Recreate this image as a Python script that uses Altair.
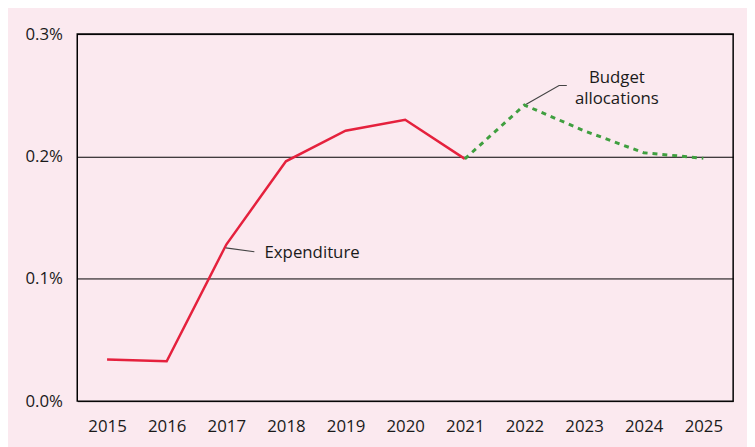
import altair as alt
import pandas as pd

# Data (percent of GDP)
years_exp = [2015, 2016, 2017, 2018, 2019, 2020, 2021]
expenditure = [0.034, 0.0325, 0.128, 0.196, 0.221, 0.230, 0.198]
years_bud = [2021, 2022, 2023, 2024, 2025]
budget = [0.198, 0.242, 0.221, 0.203, 0.1985]

y_ticks = [0.0, 0.1, 0.2, 0.3]
x_ticks = list(range(2015, 2026))

# Annotations
exp_label = "Expenditure"
exp_label_pos = (2017.64, 0.1213)
exp_conn_x = [2016.99, 2017.47]
exp_conn_y = [0.1253, 0.1221]
bud_label = ["Budget", "allocations"]
bud_label_x = [2023.55, 2023.55]
bud_label_y = [0.2644, 0.2466]
bud_conn_x = [2022.03, 2022.58, 2022.71]
bud_conn_y = [0.2426, 0.2580, 0.2580]

FONT = "Open Sans"
BG = "#fbe9ef"
FS = 17

df_exp = pd.DataFrame({"year": years_exp, "value": expenditure})
df_bud = pd.DataFrame({"year": years_bud, "value": budget})

xscale = alt.Scale(domain=[2014.5, 2025.5], nice=False, zero=False)
yscale = alt.Scale(domain=[0, 0.3], nice=False)

xaxis = alt.Axis(values=x_ticks, format="d", title=None, grid=False, domain=False,
                 ticks=False, labelPadding=18, labelFontSize=FS, labelFont=FONT,
                 labelColor="#1a1a1a")
yaxis = alt.Axis(values=y_ticks, title=None, grid=True, gridColor="#000000", gridWidth=1,
                 gridOpacity=1, domain=False, ticks=False, labelPadding=15,
                 labelFontSize=FS, labelFont=FONT, labelColor="#1a1a1a",
                 labelExpr="format(datum.value, '.1f') + '%'")

exp_line = alt.Chart(df_exp).mark_line(color="#e5213d", strokeWidth=2.5).encode(
    x=alt.X("year:Q", scale=xscale, axis=xaxis),
    y=alt.Y("value:Q", scale=yscale, axis=yaxis),
)

bud_line = alt.Chart(df_bud).mark_line(color="#3f9f3f", strokeWidth=3, strokeDash=[5, 5]).encode(
    x=alt.X("year:Q", scale=xscale),
    y=alt.Y("value:Q", scale=yscale),
)

exp_conn = alt.Chart(pd.DataFrame({"x": exp_conn_x, "y": exp_conn_y})).mark_line(
    color="#444444", strokeWidth=1.2).encode(x=alt.X("x:Q", scale=xscale), y=alt.Y("y:Q", scale=yscale))
bud_conn = alt.Chart(pd.DataFrame({"x": bud_conn_x, "y": bud_conn_y, "o": [0, 1, 2]})).mark_line(
    color="#444444", strokeWidth=1.2).encode(x=alt.X("x:Q", scale=xscale), y=alt.Y("y:Q", scale=yscale),
                                               order="o:Q")

exp_text = alt.Chart(pd.DataFrame({"x": [exp_label_pos[0]], "y": [exp_label_pos[1]], "t": [exp_label]})).mark_text(
    align="left", baseline="middle", fontSize=FS, font=FONT, color="#1a1a1a").encode(
    x=alt.X("x:Q", scale=xscale), y=alt.Y("y:Q", scale=yscale), text="t:N")
bud_text = alt.Chart(pd.DataFrame({"x": bud_label_x, "y": bud_label_y, "t": bud_label})).mark_text(
    align="center", baseline="middle", fontSize=FS, font=FONT, color="#1a1a1a").encode(
    x=alt.X("x:Q", scale=xscale), y=alt.Y("y:Q", scale=yscale), text="t:N")

chart = alt.layer(exp_line, bud_line, exp_conn, bud_conn, exp_text, bud_text).properties(
    width=663, height=371,
    background=BG,
    autosize=alt.AutoSizeParams(type="none"),
    padding={"left": 70, "top": 24, "right": 14, "bottom": 44},
).configure_view(stroke="#000000", strokeWidth=1.5, fill=BG)

chart.save("out.html", embed_options={"renderer": "svg", "actions": False})
